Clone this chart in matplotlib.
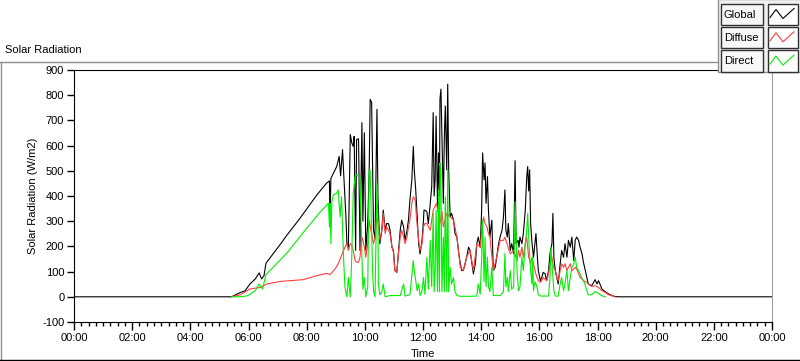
import numpy as np
import matplotlib.pyplot as plt
from matplotlib.patches import Rectangle
from matplotlib.lines import Line2D

plt.rcParams['font.family'] = ['Liberation Sans', 'DejaVu Sans']
plt.rcParams['axes.unicode_minus'] = False

# minutes after midnight, W/m2
global_min = [0, 312, 325, 343, 353, 363, 374, 382, 387, 392, 396, 429, 439, 466, 501, 521, 527, 528, 530,
              535, 542, 547, 550, 554, 556, 561, 563, 566, 570, 573, 576, 578, 581, 583, 587, 590, 594, 596,
              599, 602, 606, 609, 611, 614, 618, 621, 625, 627, 629, 631, 635, 638, 642, 645, 649, 652, 656,
              659, 662, 666, 669, 673, 676, 680, 683, 687, 690, 693, 697, 700, 702, 705, 708, 711, 714, 718,
              721, 722, 724, 728, 731, 735, 738, 741, 743, 745, 747, 750, 752, 754, 755, 757, 759, 762, 764,
              766, 769, 771, 773, 776, 779, 783, 786, 790, 793, 797, 800, 803, 807, 810, 814, 817, 821, 824,
              828, 831, 834, 838, 841, 843, 846, 848, 850, 853, 855, 858, 862, 865, 869, 872, 876, 879, 883,
              886, 889, 891, 894, 896, 900, 903, 907, 910, 912, 916, 918, 920, 924, 927, 931, 934, 936, 938,
              940, 942, 945, 948, 951, 953, 956, 958, 962, 965, 968, 972, 975, 979, 982, 986, 988, 990, 993,
              996, 999, 1003, 1006, 1010, 1013, 1017, 1020, 1024, 1027, 1031, 1034, 1037, 1041, 1044, 1048,
              1051, 1054, 1058, 1061, 1068, 1072, 1075, 1079, 1082, 1085, 1089, 1096, 1103, 1110, 1116, 1123,
              1440]
global_val = [0, 0, 0, 17, 24, 51, 71, 95, 71, 84, 133, 217, 244, 311, 404, 451, 460, 300, 470,
              490, 517, 557, 480, 584, 504, 317, 211, 197, 644, 611, 597, 637, 184, 624, 627, 184, 691, 300,
              651, 184, 292, 504, 784, 771, 264, 230, 744, 400, 291, 211, 264, 344, 264, 291, 290, 264, 197,
              184, 104, 97, 171, 264, 304, 277, 224, 264, 304, 384, 464, 597, 504, 424, 317, 211, 170, 224,
              304, 344, 344, 337, 291, 371, 437, 731, 400, 464, 717, 350, 571, 400, 784, 824, 637, 371, 637,
              757, 504, 844, 504, 317, 331, 304, 251, 237, 184, 131, 104, 104, 131, 157, 197, 184, 131, 91,
              131, 211, 237, 197, 344, 571, 464, 531, 371, 477, 344, 237, 304, 104, 117, 157, 211, 237, 264,
              317, 424, 264, 237, 291, 184, 211, 171, 540, 211, 224, 197, 237, 211, 251, 344, 477, 517, 420,
              504, 291, 211, 157, 211, 251, 157, 104, 64, 77, 97, 91, 64, 104, 171, 211, 331, 157, 104,
              77, 51, 131, 184, 157, 211, 157, 224, 197, 237, 144, 224, 237, 224, 197, 171,
              137, 111, 77, 51, 44, 57, 68, 51, 64, 51, 31, 20, 11, 5, 1, 0,
              0]

diffuse_min = [325, 343, 363, 384, 398, 425, 473, 501, 521, 528, 539, 545, 552, 559, 563, 566, 570, 573,
               576, 580, 583, 587, 590, 594, 596, 599, 602, 606, 609, 611, 614, 618, 621, 625, 628, 631, 635,
               638, 642, 645, 649, 652, 656, 659, 662, 666, 669, 673, 676, 680, 683, 687, 690, 693, 697, 700,
               704, 707, 711, 714, 718, 721, 724, 728, 735, 741, 748, 755, 759, 762, 769, 776, 783, 790, 797,
               803, 810, 817, 824, 831, 838, 841, 845, 848, 852, 855, 858, 865, 872, 879, 886, 889, 893, 900,
               907, 914, 917, 920, 924, 927, 931, 934, 938, 942, 945, 951, 955, 958, 962, 965, 968, 975, 979,
               982, 986, 989, 993, 996, 999, 1003, 1006, 1010, 1013, 1017, 1020, 1024, 1027, 1031, 1034, 1037,
               1041, 1044, 1048, 1051, 1054, 1058, 1061, 1068, 1075, 1082, 1089, 1096, 1103, 1110, 1116]
diffuse_val = [0, 8, 31, 37, 51, 61, 68, 84, 93, 88, 111, 131, 164, 197, 211, 184, 211, 205,
               184, 144, 137, 137, 157, 237, 224, 197, 157, 211, 304, 280, 250, 211, 237, 317, 291, 224, 264,
               331, 251, 277, 264, 251, 197, 177, 104, 97, 164, 237, 264, 237, 211, 237, 277, 304, 371, 397,
               384, 304, 224, 184, 211, 277, 291, 291, 264, 344, 371, 291, 340, 277, 331, 317, 304, 237, 117,
               104, 157, 184, 104, 211, 197, 264, 317, 291, 277, 251, 237, 104, 157, 224, 224, 237, 211, 171,
               184, 144, 184, 157, 197, 157, 211, 237, 157, 131, 157, 104, 77, 64, 57, 64, 77, 64, 91,
               131, 157, 117, 104, 77, 64, 104, 131, 117, 131, 104, 117, 131, 104, 111, 117, 111,
               91, 77, 71, 64, 61, 57, 51, 41, 44, 37, 24, 17, 8, 4, 0]

direct_min = [325, 343, 358, 374, 382, 389, 396, 439, 473, 508, 525, 527, 528, 530, 532, 535, 542, 545, 549,
              552, 556, 559, 563, 566, 570, 573, 576, 580, 583, 587, 590, 594, 596, 599, 602, 606, 609, 611,
              614, 616, 618, 621, 625, 627, 628, 631, 635, 638, 642, 652, 662, 673, 680, 683, 693, 700, 702,
              705, 708, 711, 714, 718, 721, 724, 728, 731, 735, 738, 741, 743, 745, 747, 750, 752, 754, 755,
              757, 759, 762, 764, 766, 769, 771, 773, 776, 779, 783, 786, 790, 797, 817, 831, 834, 838, 841,
              843, 846, 848, 850, 853, 855, 858, 862, 865, 879, 886, 889, 891, 894, 896, 900, 903, 907, 910,
              914, 917, 920, 924, 927, 931, 934, 936, 939, 942, 945, 946, 948, 951, 955, 958, 962, 979, 982,
              984, 987, 990, 993, 999, 1003, 1006, 1010, 1013, 1017, 1020, 1024, 1027, 1031, 1034, 1037, 1041,
              1044, 1048, 1051, 1054, 1058, 1061, 1068, 1075, 1082, 1089, 1096]
direct_val = [0, 0, 4, 24, 51, 31, 88, 173, 255, 337, 371, 277, 371, 211, 380, 404, 411, 424, 317,
              397, 157, 37, 0, 77, 0, 157, 411, 477, 484, 477, 470, 157, 30, 77, 0, 40, 504, 504,
              264, 100, 24, 0, 451, 300, 51, 8, 20, 51, 0, 5, 5, 5, 51, 3, 8, 144, 104,
              64, 24, 51, 5, 24, 77, 10, 157, 30, 224, 40, 331, 20, 100, 344, 20, 424, 20, 531,
              504, 20, 237, 20, 397, 20, 504, 20, 117, 51, 77, 20, 5, 2, 2, 3, 51, 10, 157,
              304, 60, 237, 40, 157, 40, 20, 117, 5, 5, 20, 171, 40, 77, 20, 104, 30, 40, 377,
              104, 24, 40, 157, 104, 211, 264, 331, 197, 104, 51, 157, 24, 60, 40, 8, 3, 3, 77,
              197, 104, 24, 3, 3, 51, 77, 24, 51, 104, 24, 77, 117, 131, 157, 117, 104,
              91, 71, 64, 51, 24, 8, 8, 21, 14, 4, 0]

x_ticks = np.arange(0, 1441, 120)
x_labels = ['%02d:00' % (h % 24) for h in range(0, 25, 2)]
y_ticks = np.arange(-100, 901, 100)

W, H = 800, 361
fig = plt.figure(figsize=(W / 100, H / 100), dpi=100)
fig.patch.set_facecolor('white')

ax = fig.add_axes([74 / W, 1 - 322 / H, (772 - 74) / W, (322 - 70) / H])
ax.plot(global_min, global_val, color='black', lw=0.8)
ax.plot(diffuse_min, diffuse_val, color='#ff4040', lw=0.8)
ax.plot(direct_min, direct_val, color='#00ee00', lw=0.8)

ax.set_xlim(0, 1440)
ax.set_ylim(-100, 900)
ax.set_xticks(x_ticks)
ax.set_xticklabels(x_labels)
ax.set_xticks(np.arange(0, 1441, 15), minor=True)
ax.set_yticks(y_ticks)
ax.tick_params(axis='both', labelsize=8, color='black', direction='out', pad=2)
ax.tick_params(axis='x', which='major', length=6, width=1)
ax.tick_params(axis='x', which='minor', length=3, width=1)
ax.tick_params(axis='y', length=5, width=1)
for s in ['left', 'top', 'bottom']:
    ax.spines[s].set_color('black')
ax.spines['right'].set_color('#a0a0a0')
ax.set_xlabel('Time', fontsize=8, labelpad=4)
ax.set_ylabel('Solar Radiation (W/m2)', fontsize=8, labelpad=3)

# panel frame, title and legend drawn in pixel space
ov = fig.add_axes([0, 0, 1, 1], zorder=5)
ov.set_xlim(0, W)
ov.set_ylim(H, 0)
ov.axis('off')
ov.patch.set_alpha(0)
ov.add_line(Line2D([0, 718], [62, 62], color='#909090', lw=1))
ov.add_line(Line2D([0.5, 0.5], [62, 360], color='#909090', lw=1))
ov.add_line(Line2D([0, W], [359.5, 359.5], color='black', lw=1))
ov.text(5, 50, 'Solar Radiation', fontsize=8, va='center', ha='left')

ov.add_patch(Rectangle((717.5, -1), 83, 73, facecolor='#f0f0f0', edgecolor='#909090', lw=1))
names = ['Global', 'Diffuse', 'Direct']
colors = ['black', '#ff4040', '#00ee00']
for i, (name, c) in enumerate(zip(names, colors)):
    y0 = 3.5 + i * 23.3
    ov.add_patch(Rectangle((721, y0), 42, 21.5, facecolor='#f8f8f8', edgecolor='#303030', lw=1))
    ov.add_patch(Rectangle((767.5, y0), 30, 21.5, facecolor='white', edgecolor='#303030', lw=1))
    ov.text(724, y0 + 11, name, fontsize=8, va='center', ha='left')
    ov.add_line(Line2D([770, 776, 783, 794], [y0 + 14, y0 + 6, y0 + 15, y0 + 5], color=c, lw=0.8))

fig.savefig('out.png', dpi=100)
